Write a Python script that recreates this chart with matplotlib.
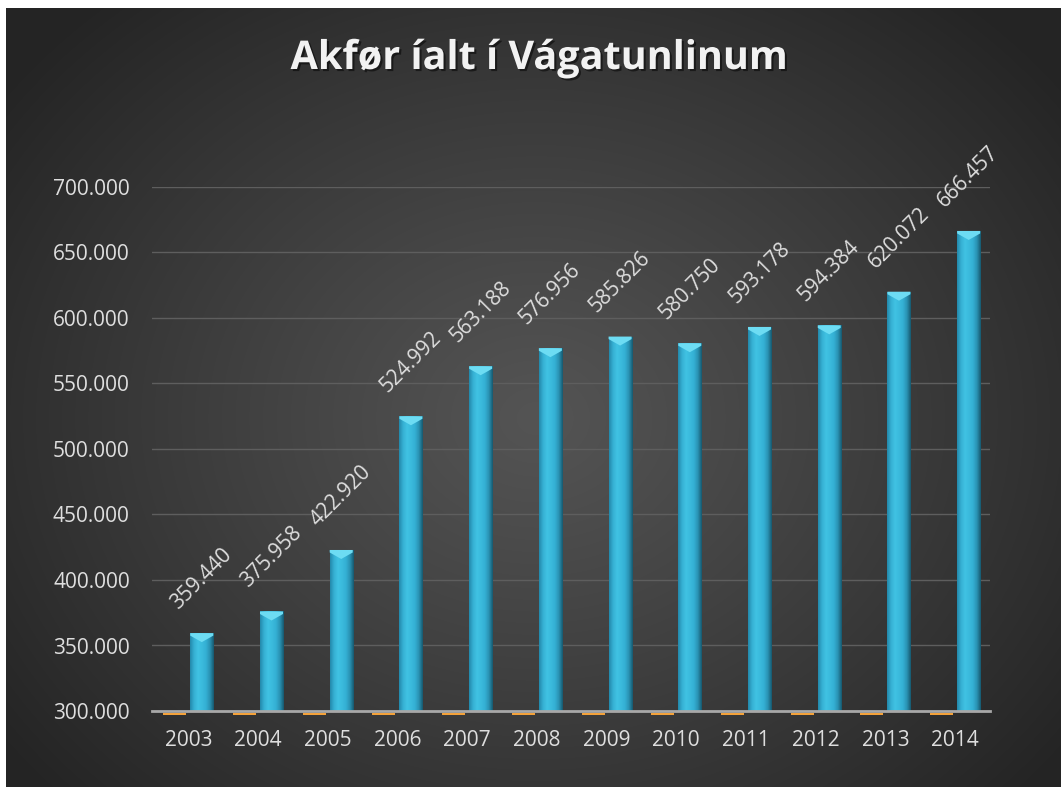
import numpy as np
import matplotlib
matplotlib.use('Agg')
import matplotlib.pyplot as plt
from matplotlib.patches import Polygon
import matplotlib.patheffects as pe
from matplotlib.colors import LinearSegmentedColormap

# ---------------- data ----------------
years = ['2003', '2004', '2005', '2006', '2007', '2008', '2009', '2010',
         '2011', '2012', '2013', '2014']
values = [359440, 375958, 422920, 524992, 563188, 576956, 585826, 580750,
          593178, 594384, 620072, 666457]
value_labels = ['359.440', '375.958', '422.920', '524.992', '563.188', '576.956',
                '585.826', '580.750', '593.178', '594.384', '620.072', '666.457']
series2 = [0] * 12  # second (orange) series, sits at / below the axis minimum
yticks = [300000, 350000, 400000, 450000, 500000, 550000, 600000, 650000, 700000]
ytick_labels = ['300.000', '350.000', '400.000', '450.000', '500.000',
                '550.000', '600.000', '650.000', '700.000']
title = 'Akfør íalt í Vágatunlinum'

W, H = 1063, 787
FONT = 'Open Sans'
TXT = '#dedede'

fig = plt.figure(figsize=(W / 100, H / 100), dpi=100)
fig.patch.set_facecolor('white')

# ---------------- background radial gradient ----------------
bw_px, bh_px = 1055, 779
bg = fig.add_axes([6 / W, 0, bw_px / W, bh_px / H])
bg.set_axis_off()
yy, xx = np.mgrid[0:bh_px, 0:bw_px]
cx, cy = 530, 410
dx = (xx - cx) / (bw_px * 0.62)
dy = (yy - cy) / (bh_px * 0.70)
r = np.clip(np.sqrt(dx ** 2 + dy ** 2), 0, 1)
c_center, c_edge = 0x54 / 255, 0x25 / 255
g = c_center - (c_center - c_edge) * r ** 1.1
img = np.dstack([g, g, g])
bg.imshow(img, aspect='auto', extent=[0, 1, 0, 1], origin='upper', zorder=-10)
bg.set_xlim(0, 1)
bg.set_ylim(0, 1)

# ---------------- main axes ----------------
ax_left, ax_right, ax_top, ax_bottom = 152, 990, 187, 711
ax = fig.add_axes([ax_left / W, 1 - ax_bottom / H,
                   (ax_right - ax_left) / W, (ax_bottom - ax_top) / H])
ax.set_facecolor('none')
ymin, ymax = 300000, 700000
x = np.arange(len(years))
off = 0.194
bwid = 0.33

px_per_unit = (ax_bottom - ax_top) / (ymax - ymin)

bars = ax.bar(x + off, values, width=bwid, color='#35b4d8', zorder=3)

cmap = LinearSegmentedColormap.from_list(
    'bar', ['#2389ab', '#36b0d3', '#40c2e3', '#3bbbdd', '#34b0d4', '#2a93b4', '#175a70'])
grad = np.linspace(0, 1, 64).reshape(1, -1)
cap_h = 9 / px_per_unit
for b in bars:
    x0, w, hgt = b.get_x(), b.get_width(), b.get_height()
    im = ax.imshow(grad, cmap=cmap, aspect='auto',
                   extent=[x0, x0 + w, ymin, hgt], zorder=4)
    im.set_clip_path(b)
    top = hgt
    band = 2.5 / px_per_unit
    poly = Polygon([[x0, top], [x0 + w, top], [x0 + w, top - band],
                    [x0 + w / 2, top - cap_h], [x0, top - band]],
                   closed=True, facecolor='#6ddcf3', edgecolor='none', zorder=5)
    ax.add_patch(poly)

# orange series just below the axis line
o_h = 2.0 / px_per_unit
o_gap = 1.5 / px_per_unit
ax.bar(x - off, [o_h] * len(series2), bottom=np.array(series2) * 0 + ymin - o_gap - o_h,
       width=bwid, color='#f4a23a', clip_on=False, zorder=2)

for xi, v, lab in zip(x, values, value_labels):
    ax.annotate(lab, (xi + off, v), xytext=(0, 39), textcoords='offset points',
                ha='center', va='center', rotation=45, color=TXT,
                fontsize=15, family=FONT, zorder=6)

ax.set_xlim(-0.52, 11.5)
ax.set_ylim(ymin, ymax)
ax.set_yticks(yticks)
ax.set_yticklabels(ytick_labels)
ax.set_xticks(x)
ax.set_xticklabels(years)
ax.tick_params(axis='both', length=0, colors=TXT, labelsize=15)
ax.tick_params(axis='y', pad=16)
ax.tick_params(axis='x', pad=14)
for lab in ax.get_xticklabels() + ax.get_yticklabels():
    lab.set_family(FONT)
ax.yaxis.grid(True, color='#5e5e5e', linewidth=1.0, zorder=0)
ax.set_axisbelow(True)
for s in ['top', 'right', 'left']:
    ax.spines[s].set_visible(False)
ax.spines['bottom'].set_color('#a8a8a8')
ax.spines['bottom'].set_linewidth(2)
ax.spines['bottom'].set_zorder(6)

t = fig.text(539.5 / W, 1 - 69 / H, title, ha='center', va='baseline',
             fontsize=28.5, fontweight='bold', family=FONT, color='#f2f2f2')
t.set_path_effects([pe.withSimplePatchShadow(offset=(1.5, -1.5), shadow_rgbFace='black', alpha=0.5)])

fig.savefig('out.png', dpi=100, facecolor=fig.get_facecolor())
